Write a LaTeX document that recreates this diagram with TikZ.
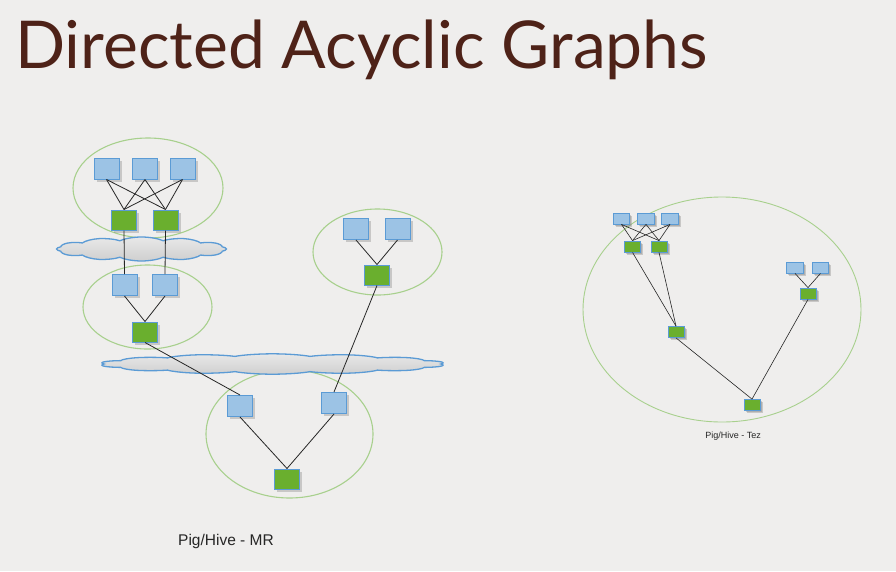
\documentclass[tikz,border=0pt]{standalone}
\usepackage{fontspec}
\setmainfont{Liberation Sans}
\newfontfamily\titlefont{Lato}
\usetikzlibrary{shapes.symbols,shadows}
\definecolor{bgc}{HTML}{EFEEED}
\definecolor{bfill}{HTML}{9CC3E5}
\definecolor{bedge}{HTML}{5B9BD5}
\definecolor{gfill}{HTML}{6AAF2E}
\definecolor{ellc}{HTML}{A8D08D}
\definecolor{cloudtop}{HTML}{E8E8E8}
\definecolor{cloudbot}{HTML}{CFCFCF}
\definecolor{titlec}{HTML}{4E2218}
\tikzset{
  sq/.style={draw=bedge, line width=1pt, inner sep=0pt, drop shadow={opacity=0.35, shadow xshift=2.5pt, shadow yshift=-2.5pt}},
  bsq/.style={sq, fill=bfill, minimum width=25pt, minimum height=21pt},
  gsq/.style={sq, fill=gfill, minimum width=25pt, minimum height=20pt},
  bsm/.style={sq, line width=0.8pt, fill=bfill, minimum width=16.5pt, minimum height=11pt, drop shadow={opacity=0.35, shadow xshift=1.5pt, shadow yshift=-1.5pt}},
  gsm/.style={sq, line width=0.8pt, fill=gfill, minimum width=16pt, minimum height=11pt, drop shadow={opacity=0.35, shadow xshift=1.5pt, shadow yshift=-1.5pt}},
  grp/.style={draw=ellc, line width=1.1pt},
  cld/.style={cloud, draw=bedge, line width=1.3pt, top color=cloudtop, bottom color=cloudbot, cloud puffs=12, cloud puff arc=120, inner sep=0pt, aspect=2.5},
  edge/.style={draw=black!85, line width=0.8pt},
  sedge/.style={draw=black!85, line width=0.6pt}
}
\begin{document}
\begin{tikzpicture}[x=1pt,y=-1pt]
\fill[bgc] (0,0) rectangle (896,571);
\useasboundingbox (0,0) rectangle (896,571);
\node[anchor=base west, text=titlec, inner sep=0pt, font=\titlefont\fontsize{66}{70}\selectfont] (title) at (15,68) {Directed Acyclic Graphs};

% ---- left: Pig/Hive - MR ----
\draw[grp] (148,188) ellipse [x radius=75, y radius=50];
\draw[grp] (147.5,307) ellipse [x radius=64.5, y radius=42];
\draw[grp] (377.5,252) ellipse [x radius=64.5, y radius=43];
\draw[grp] (289.5,434) ellipse [x radius=83.5, y radius=64];
\begin{scope}[shift={(141.5,249)}, yscale=0.3, transform shape]
  \node[cld, minimum width=170pt, minimum height=80pt] (c1) at (0,0) {};
\end{scope}
\begin{scope}[shift={(272.5,364)}, yscale=0.12, transform shape]
  \node[cld, cloud puffs=14, minimum width=345pt, minimum height=170pt] (c2) at (0,0) {};
\end{scope}

\node[bsq] (a1) at (106.5,168.5) {};
\node[bsq] (a2) at (145,168.5) {};
\node[bsq] (a3) at (182.5,168.5) {};
\node[gsq] (b1) at (124,220) {};
\node[gsq] (b2) at (165.5,220) {};
\node[bsq] (d1) at (124.5,285) {};
\node[bsq] (d2) at (165,285) {};
\node[gsq] (e1) at (145,332) {};
\node[bsq] (r1) at (356,229) {};
\node[bsq] (r2) at (397.5,229) {};
\node[gsq] (rg) at (377,275) {};
\node[bsq] (f1) at (240,406) {};
\node[bsq] (f2) at (334,403) {};
\node[gsq] (fg) at (287,479) {};

\foreach \s in {a1,a2,a3}{\foreach \t in {b1,b2}{\draw[edge] (\s.south) -- (\t.north);}}
\draw[edge] (b1.south) -- (d1.north);
\draw[edge] (b2.south) -- (d2.north);
\draw[edge] (d1.south) -- (e1.north);
\draw[edge] (d2.south) -- (e1.north);
\draw[edge] (r1.south) -- (rg.north);
\draw[edge] (r2.south) -- (rg.north);
\draw[edge] (e1.south) -- (f1.north);
\draw[edge] (rg.south) -- (f2.north);
\draw[edge] (f1.south) -- (fg.north);
\draw[edge] (f2.south) -- (fg.north);
\node[font=\fontsize{15.5}{18}\selectfont, text=black!85] (mrlabel) at (226,541) {Pig/Hive - MR};

% ---- right: Pig/Hive - Tez ----
\draw[grp, line width=0.9pt] (722,309.5) ellipse [x radius=139, y radius=112.5];
\node[bsm] (ta1) at (621.5,218.5) {};
\node[bsm] (ta2) at (646,218.5) {};
\node[bsm] (ta3) at (670,218.5) {};
\node[gsm] (tb1) at (632.5,246.5) {};
\node[gsm] (tb2) at (659,246.5) {};
\node[gsm] (tm) at (676,332) {};
\node[bsm] (tr1) at (795,267.5) {};
\node[bsm] (tr2) at (820.5,267.5) {};
\node[gsm] (trg) at (808,293.5) {};
\node[gsm] (tbot) at (752,405) {};
\foreach \s in {ta1,ta2,ta3}{\foreach \t in {tb1,tb2}{\draw[sedge] (\s.south) -- (\t.north);}}
\draw[sedge] (tb1.south) -- (tm.north);
\draw[sedge] (tb2.south) -- (tm.north);
\draw[sedge] (tr1.south) -- (trg.north);
\draw[sedge] (tr2.south) -- (trg.north);
\draw[sedge] (tm.south) -- (tbot.north);
\draw[sedge] (trg.south) -- (tbot.north);
\node[font=\fontsize{9}{11}\selectfont, text=black!85] (tezlabel) at (733,436) {Pig/Hive - Tez};
\end{tikzpicture}
\end{document}
